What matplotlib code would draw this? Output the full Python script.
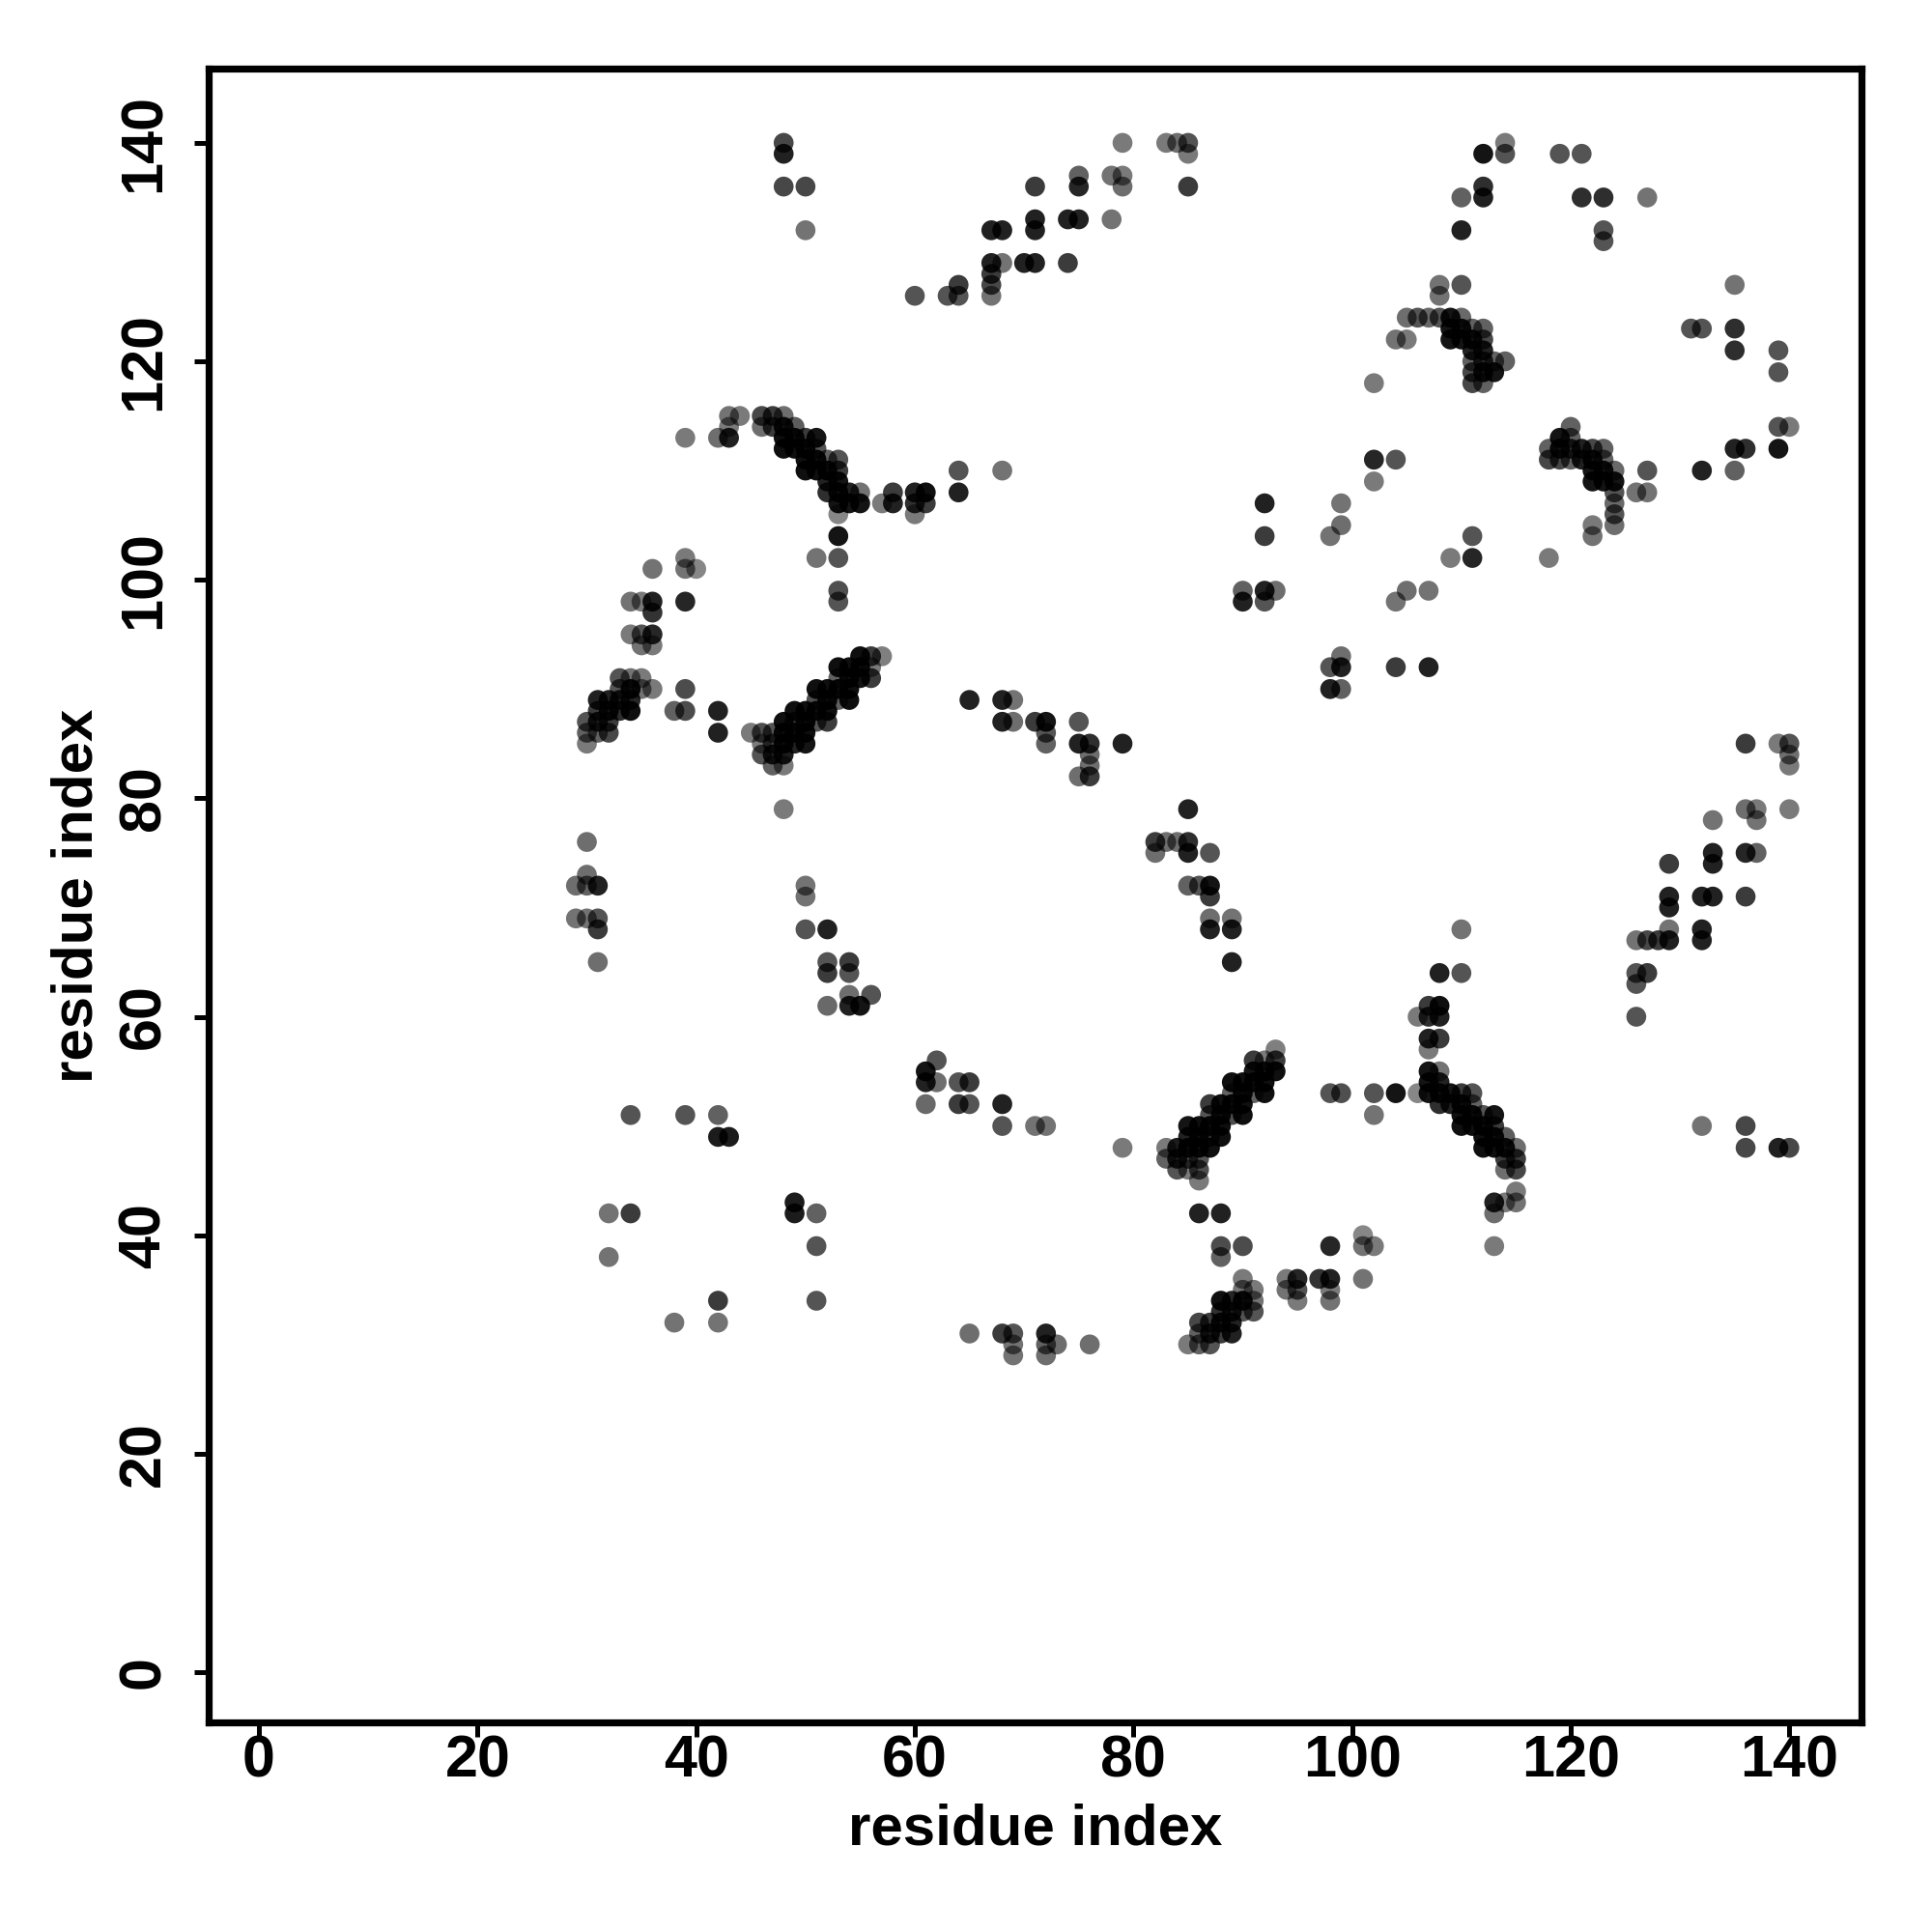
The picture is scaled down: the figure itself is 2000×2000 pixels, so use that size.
import matplotlib
matplotlib.use('Agg')
import matplotlib.pyplot as plt
import numpy as np

# contacts, one triangle only (the map is symmetric); shade = grey level of a single dot
res_a = [48, 48, 48, 50, 50,
         60, 63, 64, 64, 67, 67, 67, 67, 68, 67, 68, 70, 71, 71, 71, 71, 74, 74, 75, 75, 75, 78, 79, 79, 78, 79, 83, 84, 85, 85, 85,
         110, 110, 112, 112, 112, 114, 114, 119, 121, 121, 123, 123, 123, 127,
         108, 110, 108, 105, 106, 107, 108, 109, 110, 104, 105, 109, 109, 110, 111, 112, 112, 110, 111, 111, 112, 111, 112, 113, 114, 111, 112, 113, 111, 112, 102,
         102, 104, 102, 90, 90, 92, 92, 92, 92, 93, 98, 99, 99,
         65, 68, 69, 68, 69, 71, 72, 72, 72, 75, 75, 76, 76, 76, 75, 76, 79,
         48, 30, 30, 29, 30, 31, 29, 30, 31, 31, 31, 50, 50, 50, 52, 52, 52, 54, 54, 52, 54, 54, 55, 56,
         34, 39, 42, 42, 43, 32, 34, 32,
         39, 42, 43, 43, 43, 44, 46, 47, 48, 46, 47, 48, 49, 48, 49, 50, 51, 48, 49, 50, 51, 50, 51, 52, 53, 50, 51, 52, 53,
         52, 53, 52, 53, 54, 55, 53, 54, 55, 57, 58, 58, 60, 61, 60, 61, 60, 53, 53, 53, 51, 53, 53, 64, 64, 68,
         39, 39, 40, 36, 34, 35, 36, 36, 39, 34, 35, 36, 35, 36,
         33, 34, 35, 33, 34, 35, 36, 31, 32, 33, 34, 31, 32, 33, 34, 30, 31, 32, 30, 31, 32, 30, 39, 38, 39, 42, 42,
         47, 48, 46, 47, 48, 46, 47, 48, 49, 50, 45, 46, 47, 48, 49, 50, 48, 49, 50, 51, 52, 49, 50, 51, 52,
         51, 52, 53, 54, 51, 52, 53, 54, 53, 54, 55, 56, 53, 54, 55, 56, 55, 56, 57]
res_b = [140, 139, 136, 136, 132,
         126, 126, 126, 127, 126, 127, 128, 129, 129, 132, 132, 129, 129, 132, 133, 136, 129, 133, 133, 136, 137, 137, 137, 136, 133, 140, 140, 140, 140, 139, 136,
         135, 132, 139, 136, 135, 140, 139, 139, 139, 135, 135, 132, 131, 135,
         127, 127, 126, 124, 124, 124, 124, 124, 124, 122, 122, 123, 122, 123, 123, 123, 122, 122, 122, 121, 121, 120, 120, 120, 120, 119, 119, 119, 118, 118, 118,
         111, 111, 109, 99, 98, 107, 104, 99, 98, 99, 104, 105, 107,
         89, 89, 89, 87, 87, 87, 87, 86, 85, 87, 85, 85, 84, 83, 82, 82, 85,
         79, 76, 73, 72, 72, 72, 69, 69, 69, 68, 65, 72, 71, 68, 68, 65, 64, 65, 64, 61, 62, 61, 61, 62,
         51, 51, 51, 49, 49, 42, 42, 38,
         113, 113, 113, 114, 115, 115, 115, 115, 115, 114, 114, 114, 114, 113, 113, 113, 113, 112, 112, 112, 112, 111, 111, 111, 111, 110, 110, 110, 110,
         109, 109, 108, 108, 108, 108, 107, 107, 107, 107, 107, 108, 108, 108, 107, 107, 106, 106, 104, 102, 102, 99, 98, 110, 108, 110,
         102, 101, 101, 101, 98, 98, 98, 97, 98, 95, 95, 95, 94, 94,
         91, 91, 91, 90, 90, 90, 90, 89, 89, 89, 89, 88, 88, 88, 88, 87, 87, 87, 86, 86, 86, 85, 90, 88, 88, 88, 86,
         83, 83, 84, 84, 84, 85, 85, 85, 85, 85, 86, 86, 86, 86, 86, 86, 87, 87, 87, 87, 87, 88, 88, 88, 88,
         89, 89, 89, 89, 90, 90, 90, 90, 91, 91, 91, 91, 92, 92, 92, 92, 93, 93, 93]
shade = [.25, .10, .25, .25, .42,
         .30, .30, .30, .20, .42, .25, .20, .10, .42, .10, .10, .10, .10, .10, .10, .20, .20, .10, .10, .12, .35, .42, .45, .40, .42, .45, .45, .40, .30, .45, .20,
         .35, .10, .05, .15, .10, .45, .30, .30, .30, .15, .15, .30, .30, .42,
         .42, .30, .42, .40, .30, .38, .30, .05, .38, .42, .45, .05, .05, .05, .35, .35, .25, .05, .05, .10, .10, .35, .15, .35, .35, .25, .05, .05, .25, .35, .45,
         .12, .30, .45, .35, .10, .10, .20, .10, .30, .40, .42, .40, .42,
         .10, .10, .42, .10, .40, .20, .05, .30, .35, .30, .10, .15, .40, .40, .40, .20, .10,
         .45, .40, .40, .40, .35, .10, .42, .42, .30, .20, .40, .42, .42, .30, .10, .30, .20, .20, .30, .38, .40, .10, .05, .30,
         .30, .30, .35, .08, .08, .42, .20, .42,
         .45, .40, .10, .45, .42, .45, .25, .20, .40, .40, .20, .05, .33, .03, .03, .20, .05, .03, .03, .03, .30, .03, .03, .35, .30, .03, .03, .03, .20,
         .10, .05, .15, .05, .10, .42, .05, .05, .05, .45, .10, .20, .10, .03, .15, .20, .45, .50, .05, .30, .42, .28, .30, .30, .10, .42,
         .45, .42, .50, .42, .42, .45, .10, .17, .12, .45, .30, .12, .42, .45,
         .30, .42, .45, .30, .03, .42, .45, .10, .10, .10, .12, .20, .05, .15, .03, .30, .10, .20, .35, .35, .25, .45, .27, .35, .27, .10, .10,
         .35, .45, .30, .10, .08, .45, .25, .03, .10, .05, .45, .28, .30, .03, .03, .03, .03, .20, .03, .30, .20, .03, .03, .03, .03,
         .28, .03, .35, .03, .03, .03, .03, .03, .35, .03, .05, .20, .03, .03, .03, .45, .03, .20, .47]

x_ticks = [0, 20, 40, 60, 80, 100, 120, 140]

plt.rcParams['font.family'] = ['Liberation Sans', 'DejaVu Sans']
plt.rcParams['font.weight'] = 'bold'

a = np.array(res_a)
b = np.array(res_b)
# single dots in the reference never reach pure black, so lift the shades a bit
alpha = 1 - (np.array(shade) + 0.03)
colors = np.zeros((len(a), 4))
colors[:, 3] = alpha

fig = plt.figure(figsize=(10, 10), dpi=200)
ax = fig.add_axes([0.108, 0.1085, 0.8555, 0.856])
ax.scatter(a, b, s=55, c=colors, linewidths=0)
ax.scatter(b, a, s=55, c=colors, linewidths=0)

ax.set_xlim(-4.6, 146.6)
ax.set_ylim(-4.6, 146.8)
ax.set_xticks(x_ticks)
ax.set_yticks(x_ticks)
ax.tick_params(length=5.5, width=1.8, labelsize=22)
ax.tick_params(axis='x', pad=-1)
ax.tick_params(axis='y', labelrotation=90, pad=8)
for t in ax.get_yticklabels():
    t.set_va('center')
for s in ax.spines.values():
    s.set_linewidth(2.6)
ax.set_xlabel('residue index', fontsize=21.6, fontweight='bold', va='center')
ax.set_ylabel('residue index', fontsize=21.6, fontweight='bold', va='center')
ax.xaxis.set_label_coords(0.5, -0.0648)
ax.yaxis.set_label_coords(-0.0797, 0.5)

fig.savefig('out.png', dpi=200)
